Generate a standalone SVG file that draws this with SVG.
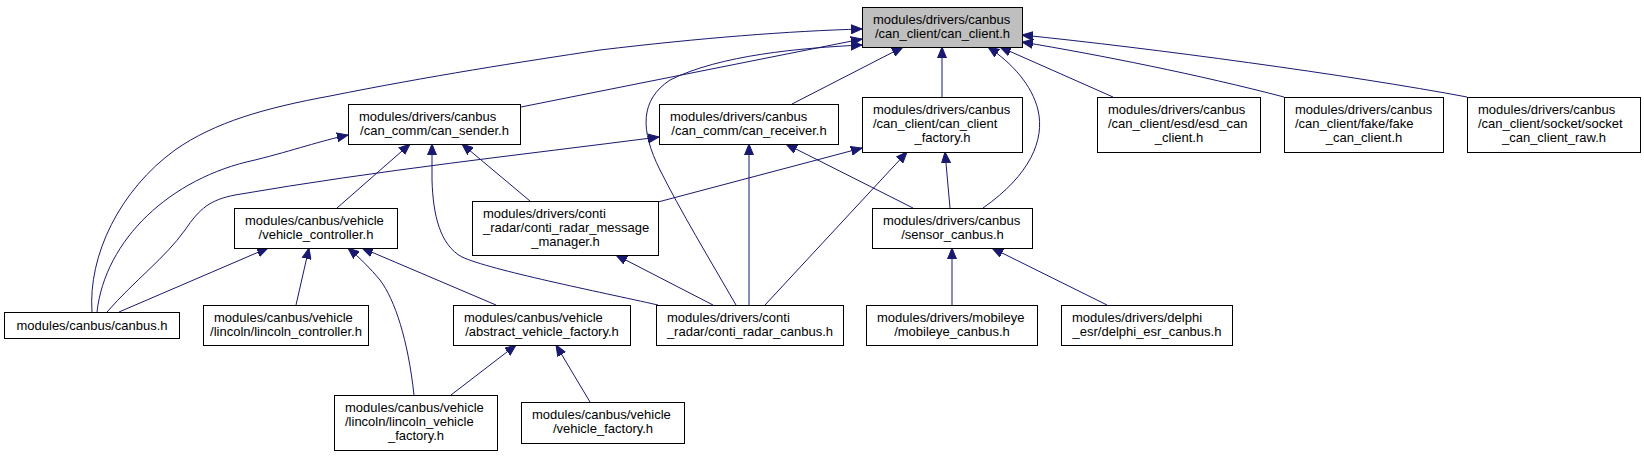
<svg xmlns="http://www.w3.org/2000/svg" width="1644" height="456" viewBox="0 0 1644 456">
<style>
.n rect{fill:#fff;stroke:#000;stroke-width:1}
.n text{font-family:"Liberation Sans",Arial,sans-serif;font-size:13px;fill:#000}
.c{text-anchor:middle}
.e path{fill:none;stroke:#191970;stroke-width:1}
</style>
<defs>
<marker id="a" markerUnits="userSpaceOnUse" markerWidth="12" markerHeight="10" refX="11" refY="5" orient="auto">
<path d="M0,0.5 L11,5 L0,9.5 z" fill="#191970" stroke="#191970" stroke-width="1"/>
</marker>
</defs>
<rect width="1644" height="456" fill="#fff"/>
<g class="e" marker-end="url(#a)">
<path marker-end="url(#a)" d="M92,312 C88,255 120,190 175,150 C215,122 265,108 330,96 C430,76 520,62 600,50 C700,38 790,31 862,29"/>
<path marker-end="url(#a)" d="M97,312 C105,240 170,178 255,160 C295,150 320,141 348,135"/>
<path marker-end="url(#a)" d="M107,312 C135,280 165,258 185,230 C200,208 210,200 235,195 C380,170 520,155 659,137"/>
<path marker-end="url(#a)" d="M119,312 L268,248"/>
<path marker-end="url(#a)" d="M521,107 L862,39"/>
<path marker-end="url(#a)" d="M792,104 L903,47"/>
<path marker-end="url(#a)" d="M942,97 L942,47"/>
<path marker-end="url(#a)" d="M1113,97 L1000,47"/>
<path marker-end="url(#a)" d="M1284,97 C1200,75 1100,55 1022,42"/>
<path marker-end="url(#a)" d="M1467,97 C1350,75 1150,48 1022,35"/>
<path marker-end="url(#a)" d="M983,208 C1030,175 1045,140 1038,110 C1032,85 1012,63 988,47"/>
<path marker-end="url(#a)" d="M736,305 C710,260 680,210 660,170 C640,130 640,100 670,80 C720,55 800,48 862,45"/>
<path marker-end="url(#a)" d="M337,208 L410,144"/>
<path marker-end="url(#a)" d="M658,305 C600,292 490,270 462,257 C440,245 433,215 432,180 L432,144"/>
<path marker-end="url(#a)" d="M530,201 L462,144"/>
<path marker-end="url(#a)" d="M749,305 L749,144"/>
<path marker-end="url(#a)" d="M913,208 L786,144"/>
<path marker-end="url(#a)" d="M658,202 L862,148"/>
<path marker-end="url(#a)" d="M765,305 L907,152"/>
<path marker-end="url(#a)" d="M950,208 L945,152"/>
<path marker-end="url(#a)" d="M296,305 L309,248"/>
<path marker-end="url(#a)" d="M414,395 C408,340 395,300 380,280 C370,268 360,258 348,248"/>
<path marker-end="url(#a)" d="M496,305 L362,248"/>
<path marker-end="url(#a)" d="M713,305 L616,255"/>
<path marker-end="url(#a)" d="M952,305 L952,248"/>
<path marker-end="url(#a)" d="M1107,305 L992,248"/>
<path marker-end="url(#a)" d="M451,395 L516,345"/>
<path marker-end="url(#a)" d="M590,402 L556,345"/>
</g>
<g id="n_can_client" class="n"><rect x="862.5" y="7.5" width="160" height="40" style="fill:#bfbfbf"/><text x="873" y="24">modules/drivers/canbus</text><text class="c" x="942.5" y="38">/can_client/can_client.h</text></g>
<g id="n_can_sender" class="n"><rect x="348.5" y="104.5" width="172" height="40"/><text x="359" y="121">modules/drivers/canbus</text><text class="c" x="434.5" y="135">/can_comm/can_sender.h</text></g>
<g id="n_can_receiver" class="n"><rect x="659.5" y="104.5" width="179" height="40"/><text x="670" y="121">modules/drivers/canbus</text><text class="c" x="749" y="135">/can_comm/can_receiver.h</text></g>
<g id="n_can_client_factory" class="n"><rect x="862.5" y="97.5" width="160" height="55"/><text x="873" y="114">modules/drivers/canbus</text><text x="873" y="128">/can_client/can_client</text><text class="c" x="942.5" y="142">_factory.h</text></g>
<g id="n_esd_can_client" class="n"><rect x="1097.5" y="97.5" width="163" height="55"/><text x="1108" y="114">modules/drivers/canbus</text><text x="1108" y="128">/can_client/esd/esd_can</text><text class="c" x="1179" y="142">_client.h</text></g>
<g id="n_fake_can_client" class="n"><rect x="1284.5" y="97.5" width="159" height="55"/><text x="1295" y="114">modules/drivers/canbus</text><text x="1295" y="128">/can_client/fake/fake</text><text class="c" x="1364" y="142">_can_client.h</text></g>
<g id="n_socket_can_client_raw" class="n"><rect x="1467.5" y="97.5" width="173" height="55"/><text x="1478" y="114">modules/drivers/canbus</text><text x="1478" y="128">/can_client/socket/socket</text><text class="c" x="1554" y="142">_can_client_raw.h</text></g>
<g id="n_vehicle_controller" class="n"><rect x="234.5" y="208.5" width="163" height="40"/><text x="245" y="225">modules/canbus/vehicle</text><text class="c" x="316" y="239">/vehicle_controller.h</text></g>
<g id="n_conti_radar_message_manager" class="n"><rect x="472.5" y="201.5" width="186" height="54"/><text x="483" y="218">modules/drivers/conti</text><text x="483" y="232">_radar/conti_radar_message</text><text class="c" x="565.5" y="246">_manager.h</text></g>
<g id="n_sensor_canbus" class="n"><rect x="872.5" y="208.5" width="160" height="40"/><text x="883" y="225">modules/drivers/canbus</text><text class="c" x="952.5" y="239">/sensor_canbus.h</text></g>
<g id="n_canbus" class="n"><rect x="4.5" y="312.5" width="175" height="26"/><text class="c" x="92" y="330">modules/canbus/canbus.h</text></g>
<g id="n_lincoln_controller" class="n"><rect x="203.5" y="305.5" width="165" height="40"/><text x="214" y="322">modules/canbus/vehicle</text><text class="c" x="286" y="336">/lincoln/lincoln_controller.h</text></g>
<g id="n_abstract_vehicle_factory" class="n"><rect x="453.5" y="305.5" width="177" height="40"/><text x="464" y="322">modules/canbus/vehicle</text><text class="c" x="542" y="336">/abstract_vehicle_factory.h</text></g>
<g id="n_conti_radar_canbus" class="n"><rect x="656.5" y="305.5" width="187" height="40"/><text x="667" y="322">modules/drivers/conti</text><text class="c" x="750" y="336">_radar/conti_radar_canbus.h</text></g>
<g id="n_mobileye_canbus" class="n"><rect x="866.5" y="305.5" width="171" height="40"/><text x="877" y="322">modules/drivers/mobileye</text><text class="c" x="952" y="336">/mobileye_canbus.h</text></g>
<g id="n_delphi_esr_canbus" class="n"><rect x="1061.5" y="305.5" width="171" height="40"/><text x="1072" y="322">modules/drivers/delphi</text><text class="c" x="1147" y="336">_esr/delphi_esr_canbus.h</text></g>
<g id="n_lincoln_vehicle_factory" class="n"><rect x="334.5" y="395.5" width="163" height="55"/><text x="345" y="412">modules/canbus/vehicle</text><text x="345" y="426">/lincoln/lincoln_vehicle</text><text class="c" x="416" y="440">_factory.h</text></g>
<g id="n_vehicle_factory" class="n"><rect x="521.5" y="402.5" width="163" height="41"/><text x="532" y="419">modules/canbus/vehicle</text><text class="c" x="603" y="433">/vehicle_factory.h</text></g>
</svg>
